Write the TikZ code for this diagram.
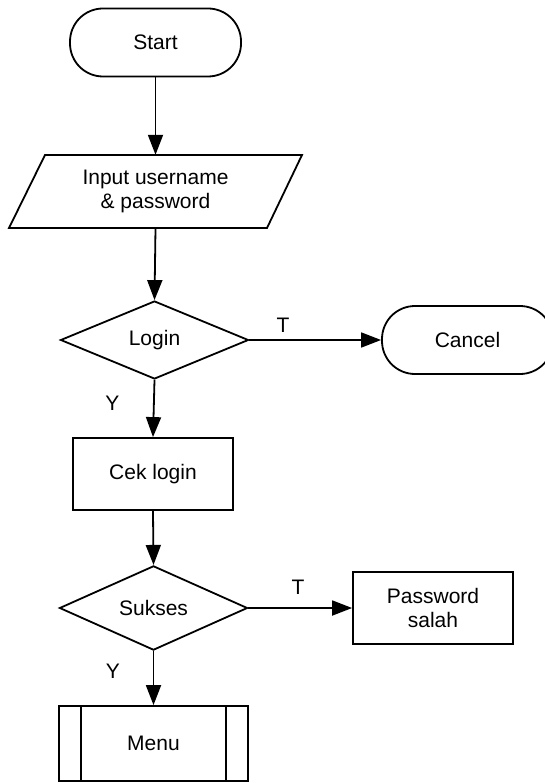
\documentclass[tikz,border=0pt]{standalone}
\usepackage{fontspec}
\setmainfont{Liberation Sans}
\usetikzlibrary{shapes.geometric,arrows.meta}
\begin{document}
\begin{tikzpicture}[x=1pt,y=-1pt,
  every node/.style={font=\fontsize{21}{24}\selectfont, align=center, inner sep=0pt},
  terminal/.style={draw, line width=1.8pt, rectangle, rounded corners=33pt, minimum width=171pt, minimum height=68pt},
  process/.style={draw, line width=1.8pt, rectangle, minimum width=160pt, minimum height=72pt},
  decision/.style={draw, line width=1.8pt, diamond, minimum width=188pt, minimum height=78pt},
  iobox/.style={rectangle, minimum width=221pt, minimum height=73pt},
  predef/.style={draw, line width=1.8pt, rectangle, minimum width=189pt, minimum height=75pt},
  conn/.style={line width=1.8pt, -{Triangle[length=20pt,width=15pt]}},
  lbl/.style={font=\fontsize{21}{24}\selectfont}
]
\useasboundingbox (0,0) rectangle (545,783);

\node[terminal] (start) at (155.5,42.5) {Start};

\draw[line width=1.8pt] (45,155) -- (302,155) -- (267,228) -- (9,228) -- cycle;
\node[iobox] (input) at (155.5,191.5) {Input username\\\& password};

\node[decision] (login) at (154.5,340) {Login};
\node[terminal] (cancel) at (467.5,340) {Cancel};

\node[process] (cek) at (153,474) {Cek login};

\node[decision] (sukses) at (153.5,608) {Sukses};
\node[process] (pass) at (433,608) {Password\\salah};

\node[predef] (menu) at (153.5,743.5) {Menu};
\draw[line width=1.8pt] ([xshift=23pt]menu.north west) -- ([xshift=23pt]menu.south west);
\draw[line width=1.8pt] ([xshift=-23pt]menu.north east) -- ([xshift=-23pt]menu.south east);

\draw[conn] (start.south) -- (input.north);
\draw[conn] (input.south) -- (login.north);
\draw[conn] (login.east) -- (cancel.west);
\draw[conn] (login.south) -- (cek.north);
\draw[conn] (cek.south) -- (sukses.north);
\draw[conn] (sukses.east) -- (pass.west);
\draw[conn] (sukses.south) -- (menu.north);

\node[lbl] (t1) at (283,325) {T};
\node[lbl] (y1) at (112.5,403.5) {Y};
\node[lbl] (t2) at (298,587) {T};
\node[lbl] (y2) at (113,671) {Y};
\end{tikzpicture}
\end{document}
